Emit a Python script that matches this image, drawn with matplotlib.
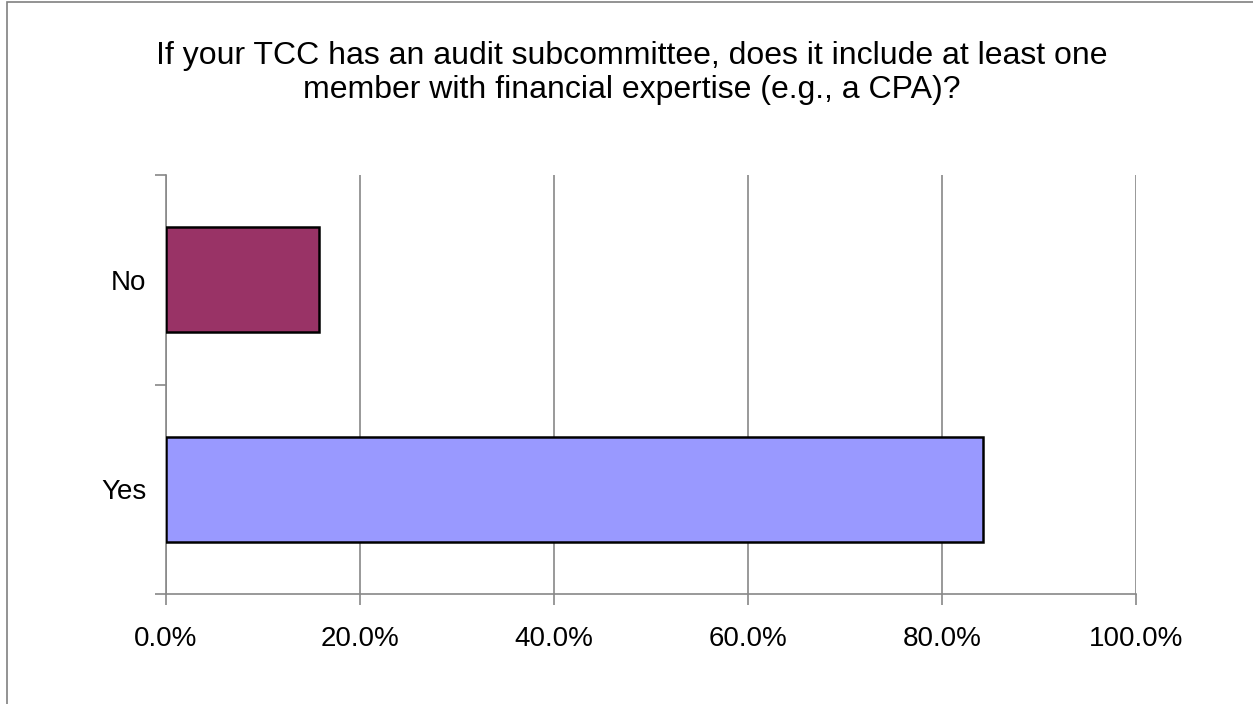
import matplotlib
matplotlib.use("Agg")
import matplotlib.pyplot as plt
from matplotlib.patches import Rectangle
from matplotlib.ticker import FuncFormatter

categories = ["Yes", "No"]
values = [84.2, 15.8]
colors = ["#9999FF", "#993366"]
title = "If your TCC has an audit subcommittee, does it include at least one\nmember with financial expertise (e.g., a CPA)?"

plt.rcParams['font.family'] = ['Liberation Sans', 'DejaVu Sans']

W, H = 1253, 704
fig = plt.figure(figsize=(W/100, H/100), dpi=100)
fig.patches.append(Rectangle((7/W, -0.01), (W-7.5)/W - 7/W + 0.01, 1.01 - 2/H + 0.0,
                             transform=fig.transFigure, fill=False,
                             edgecolor="#808080", linewidth=1.2))

left, right, top, bottom = 166, 1136, 175, 594
ax = fig.add_axes([left/W, 1 - bottom/H, (right-left)/W, (bottom-top)/H])

ypos = list(range(len(categories)))
ax.barh(ypos, values, height=0.5, color=colors, edgecolor="black", linewidth=1.8, zorder=3)
ax.set_xlim(0, 100)
ax.set_ylim(-0.5, len(categories) - 0.5)
ax.set_xticks([0, 20, 40, 60, 80, 100])
ax.xaxis.set_major_formatter(FuncFormatter(lambda v, p: f"{v:.1f}%"))
ax.set_yticks([-0.5, 0.5, 1.5])
ax.set_yticklabels([])
ax.set_yticks(ypos, minor=True)
ax.set_yticklabels(categories, minor=True)
ax.tick_params(axis='y', which='minor', length=0, pad=14, labelsize=20)
ax.tick_params(axis='y', which='major', length=8, color="#888888", width=1.2)
ax.tick_params(axis='x', length=8, color="#888888", width=1.2, labelsize=20, pad=15)
ax.grid(axis='x', color="#888888", linewidth=1.2, zorder=0)
for s in ['top', 'right']:
    ax.spines[s].set_visible(False)
for s in ['left', 'bottom']:
    ax.spines[s].set_color("#888888")
    ax.spines[s].set_linewidth(1.2)

fig.text(632/W, 1 - 73/H, title, ha='center', va='center', fontsize=23, linespacing=1.17)

fig.savefig("out.png", dpi=100)
